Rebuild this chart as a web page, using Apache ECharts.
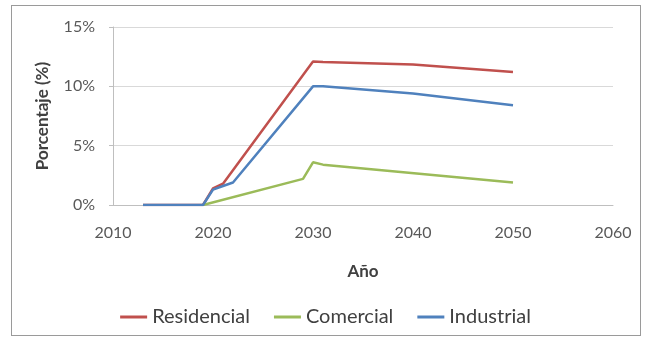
<!DOCTYPE html>
<html>
<head>
<meta charset="utf-8">
<script src="https://cdn.jsdelivr.net/npm/echarts@6/dist/echarts.min.js"></script>
<style>
  html, body { margin: 0; padding: 0; background: #fff; }
  #frame { position: absolute; left: 11px; top: 5px; width: 630px; height: 331px; border: 1px solid #9a9a9a; box-sizing: border-box; }
  #lineChart { width: 651px; height: 345px; }
</style>
</head>
<body>
<div id="frame"></div>
<div id="lineChart"></div>
<script>
// breakpoints (year, % value)
const resYears = [2013, 2019, 2020, 2021, 2030, 2031, 2040, 2050];
const resValues = [0, 0, 1.4, 1.8, 12.1, 12.05, 11.85, 11.2];
const comYears = [2019, 2029, 2030, 2031, 2050];
const comValues = [0, 2.2, 3.6, 3.4, 1.9];
const indYears = [2013, 2019, 2020, 2021, 2022, 2030, 2031, 2040, 2050];
const indValues = [0, 0, 1.3, 1.6, 1.9, 10.0, 10.0, 9.4, 8.4];

const seriesNames = ['Residencial', 'Comercial', 'Industrial'];
const seriesColors = ['#c0504d', '#9bbb59', '#4f81bd'];

function pairs(xs, ys) {
    return xs.map((x, i) => [x, ys[i]]);
}

const font = 'Lato, "Open Sans", sans-serif';
const chartDom = document.getElementById('lineChart');
const chart = echarts.init(chartDom);
const option = {
    animation: false,
    grid: { left: 113, right: 38, top: 27, bottom: 140 },
    legend: {
        bottom: 13,
        left: 'center',
        icon: 'rect',
        itemWidth: 27,
        itemHeight: 3,
        itemGap: 24,
        textStyle: { fontFamily: font, fontSize: 20, color: '#404040' },
        data: seriesNames
    },
    xAxis: {
        type: 'value',
        min: 2010,
        max: 2060,
        interval: 10,
        name: 'Año',
        nameLocation: 'middle',
        nameGap: 58,
        nameTextStyle: { fontFamily: font, fontSize: 17, fontWeight: 'bold', color: '#404040' },
        axisLine: { show: true, lineStyle: { color: '#bfbfbf' } },
        axisTick: { show: false },
        splitLine: { show: false },
        axisLabel: { fontFamily: font, fontSize: 16, color: '#595959', margin: 20, formatter: v => String(v) }
    },
    yAxis: {
        type: 'value',
        min: 0,
        max: 15,
        interval: 5,
        name: 'Porcentaje (%)',
        nameLocation: 'middle',
        nameGap: 62,
        nameTextStyle: { fontFamily: font, fontSize: 17, fontWeight: 'bold', color: '#404040' },
        axisLine: { show: true, lineStyle: { color: '#bfbfbf' } },
        axisTick: { show: true, length: 4, lineStyle: { color: '#bfbfbf' } },
        splitLine: { lineStyle: { color: '#d9d9d9' } },
        axisLabel: { fontFamily: font, fontSize: 16, color: '#595959', margin: 18, formatter: '{value}%' }
    },
    series: [
        { name: seriesNames[0], type: 'line', data: pairs(resYears, resValues) },
        { name: seriesNames[1], type: 'line', data: pairs(comYears, comValues) },
        { name: seriesNames[2], type: 'line', data: pairs(indYears, indValues) }
    ].map((s, i) => Object.assign(s, {
        showSymbol: false,
        symbol: 'none',
        color: seriesColors[i],
        lineStyle: { width: 2.5, color: seriesColors[i] }
    }))
};
chart.setOption(option);
window.addEventListener('resize', () => chart.resize());
</script>
</body>
</html>
